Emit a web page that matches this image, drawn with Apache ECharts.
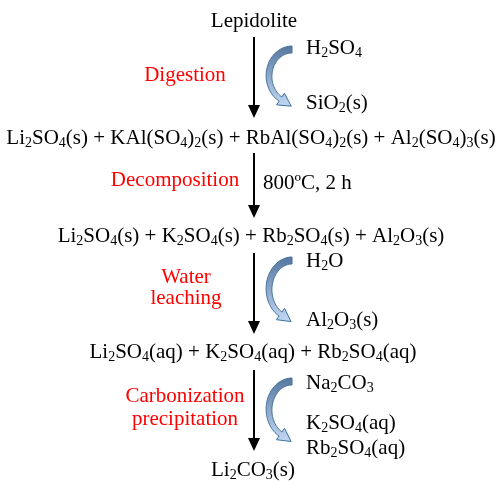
<!DOCTYPE html>
<html>
<head>
<meta charset="utf-8">
<script src="https://cdn.jsdelivr.net/npm/echarts@6/dist/echarts.min.js"></script>
<style>
  html, body { margin: 0; padding: 0; background: #fff; }
  #chart { width: 499px; height: 481px; }
</style>
</head>
<body>
<div id="chart"></div>
<script>
// products along the main flow (rich text, {s|..} = subscript)
const formulas = [
  'Lepidolite',
  'Li{s|2}SO{s|4}(s) + KAl(SO{s|4}){s|2}(s) + RbAl(SO{s|4}){s|2}(s) + Al{s|2}(SO{s|4}){s|3}(s)',
  'Li{s|2}SO{s|4}(s) + K{s|2}SO{s|4}(s) + Rb{s|2}SO{s|4}(s) + Al{s|2}O{s|3}(s)',
  'Li{s|2}SO{s|4}(aq) + K{s|2}SO{s|4}(aq) + Rb{s|2}SO{s|4}(aq)',
  'Li{s|2}CO{s|3}(s)'
];
const formulaX = [254, 251, 251, 253, 253];
const formulaY = [21, 138, 236, 352, 470];

// process step names (red)
const steps = ['Digestion', 'Decomposition', 'Water', 'leaching', 'Carbonization', 'precipitation'];
const stepX = [185, 175, 186, 186, 185, 185];
const stepY = [75, 180, 277, 298, 396, 419];

// reagents / by-products beside the curved arrows
const reagents = [
  'H{s|2}SO{s|4}', 'SiO{s|2}(s)', '800ºC, 2 h', 'H{s|2}O', 'Al{s|2}O{s|3}(s)',
  'Na{s|2}CO{s|3}', 'K{s|2}SO{s|4}(aq)', 'Rb{s|2}SO{s|4}(aq)'
];
const reagentX = [306, 306, 263, 306, 306, 306, 306, 306];
const reagentY = [48, 103, 183, 261, 320, 383, 423, 448];

// black flow arrows (x, start, end)
const flowX = [254, 254, 254, 254];
const flowStart = [37, 153, 253, 370];
const flowEnd = [118, 218, 334, 451];

// blue curved arrows (right end x, top y, tip y)
const curveX = [292, 292, 292];
const curveTop = [46, 257, 378];
const curveTip = [106, 321, 441];

const FONT = '"Liberation Serif", "Times New Roman", serif';

function textSeries(texts, xs, ys, color, align) {
  return {
    type: 'scatter',
    symbolSize: 1,
    itemStyle: { color: 'transparent', opacity: 1 },
    silent: true,
    data: texts.map((t, i) => ({ value: [xs[i], ys[i]], name: t })),
    label: {
      show: true,
      position: 'inside',
      align: align,
      verticalAlign: 'middle',
      formatter: p => p.name,
      color: color,
      opacity: 1,
      fontSize: 21,
      fontFamily: FONT,
      lineHeight: 25,
      rich: {
        s: { color: color, fontSize: 14, fontFamily: FONT, lineHeight: 14, verticalAlign: 'bottom' }
      }
    }
  };
}

function renderFlow(params, api) {
  const a = api.coord([api.value(0), api.value(1)]);
  const b = api.coord([api.value(0), api.value(2)]);
  const head = 13, hw = 6;
  return {
    type: 'group',
    children: [
      { type: 'line', shape: { x1: a[0], y1: a[1], x2: b[0], y2: b[1] - head + 1 },
        style: { stroke: '#000', lineWidth: 2 } },
      { type: 'polygon', shape: { points: [[b[0] - hw, b[1] - head], [b[0] + hw, b[1] - head], [b[0], b[1]]] },
        style: { fill: '#000' } }
    ]
  };
}

function renderCurve(params, api) {
  const xr = api.value(0), top = api.value(1), tip = api.value(2);
  const w0 = 7, w1 = 5, hw = 7, headLen = 13;
  const tEnd = 150 * Math.PI / 180;
  const ry = (tip - top - w0 / 2 - 7) / 1.866;
  const rx = 23, cx = xr, cy = top + w0 / 2 + ry;
  const outer = [], inner = [];
  const N = 40;
  let last;
  for (let i = 0; i <= N; i++) {
    const th = tEnd * i / N;
    const px = cx - rx * Math.sin(th), py = cy - ry * Math.cos(th);
    const tx = -rx * Math.cos(th), ty = ry * Math.sin(th);
    const len = Math.hypot(tx, ty);
    const nx = -ty / len, ny = tx / len;
    const w = w0 + (w1 - w0) * i / N;
    outer.push([px + nx * w / 2, py + ny * w / 2]);
    inner.push([px - nx * w / 2, py - ny * w / 2]);
    last = { px, py, dx: tx / len, dy: ty / len, nx, ny };
  }
  const pts = outer.concat([
    [last.px + last.nx * hw, last.py + last.ny * hw],
    [last.px + last.dx * headLen, last.py + last.dy * headLen],
    [last.px - last.nx * hw, last.py - last.ny * hw]
  ], inner.reverse()).map(p => api.coord(p));
  return {
    type: 'polygon',
    shape: { points: pts },
    style: {
      fill: new echarts.graphic.LinearGradient(0, 0, 0, 1, [
        { offset: 0, color: '#56769f' },
        { offset: 1, color: '#c2d9f4' }
      ]),
      stroke: '#41719c',
      lineWidth: 1
    }
  };
}

const chart = echarts.init(document.getElementById('chart'));
chart.setOption({
  animation: false,
  grid: { left: 0, right: 0, top: 0, bottom: 0 },
  xAxis: { type: 'value', min: 0, max: 499, show: false },
  yAxis: { type: 'value', min: 0, max: 481, inverse: true, show: false },
  series: [
    {
      type: 'custom',
      renderItem: renderFlow,
      silent: true,
      data: flowX.map((x, i) => [x, flowStart[i], flowEnd[i]])
    },
    {
      type: 'custom',
      renderItem: renderCurve,
      silent: true,
      data: curveX.map((x, i) => [x, curveTop[i], curveTip[i]])
    },
    textSeries(formulas, formulaX, formulaY, '#000', 'center'),
    textSeries(steps, stepX, stepY, '#ff0000', 'center'),
    textSeries(reagents, reagentX, reagentY, '#000', 'left')
  ]
});
</script>
</body>
</html>
